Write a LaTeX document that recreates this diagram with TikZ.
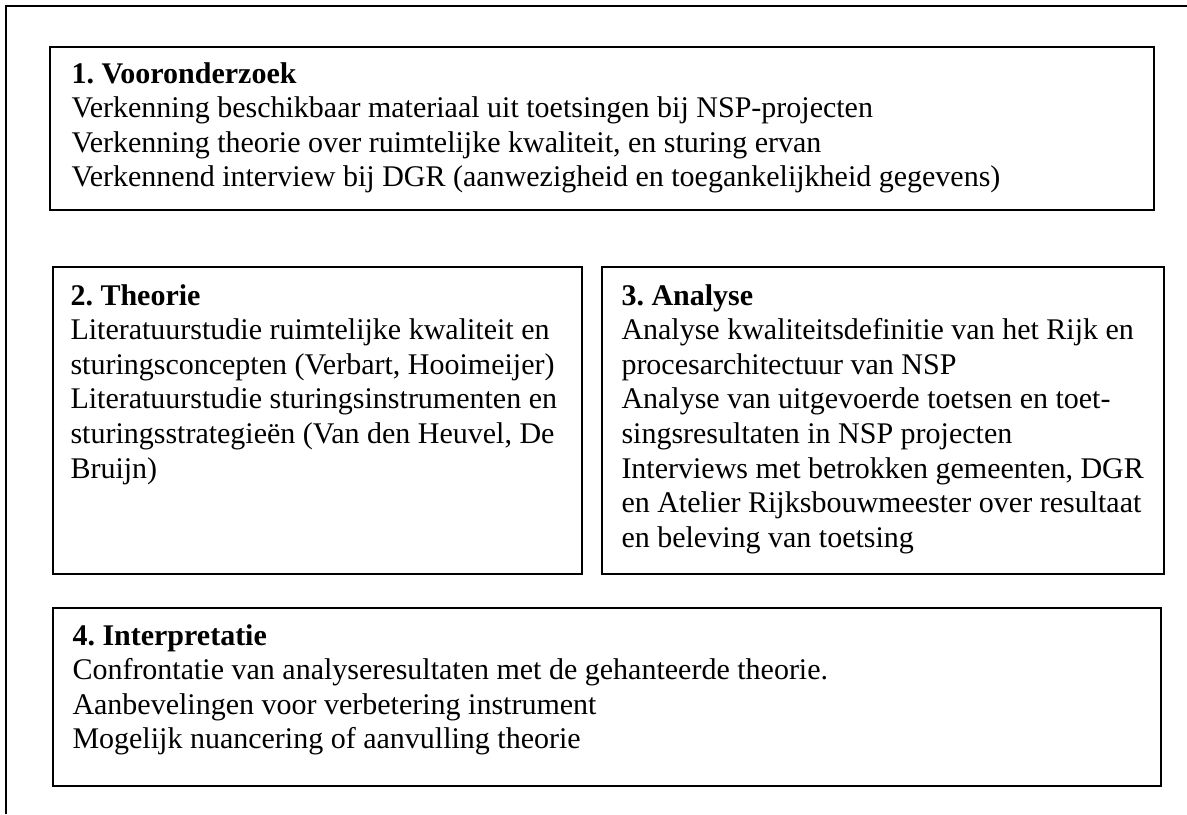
\documentclass[tikz,border=0pt]{standalone}
\usepackage{fontspec}
\setmainfont{Liberation Serif}
\usetikzlibrary{fit}
\frenchspacing
\begin{document}
\begin{tikzpicture}[x=0.4pt,y=-0.4pt,
  frame/.style={line width=0.8pt},
  panel/.style={draw, line width=0.75pt, inner sep=0pt},
  body/.style={anchor=base west, inner sep=0pt, align=left,
    font=\fontsize{12pt}{13.84pt}\selectfont}]
\useasboundingbox (0,0) rectangle (1187,814);
% outer frame, open towards the right and bottom edges
\coordinate (fbl) at (6,814);
\coordinate (ftl) at (6,6);
\coordinate (ftr) at (1187,6);
\draw[frame] (fbl) -- (ftl) -- (ftr);

% panels
\node[panel, fit={(50,47) (1154,210)}] (p1) {};
\node[panel, fit={(53,267) (582,574)}] (p2) {};
\node[panel, fit={(602,267) (1164,574)}] (p3) {};
\node[panel, fit={(53,608) (1161,786)}] (p4) {};

% panel texts
\node[body] (t1) at (71,83) {\begin{tabular}[t]{@{}l@{}}
\textbf{1. Vooronderzoek}\\
Verkenning beschikbaar materiaal uit toetsingen bij NSP-projecten\\
Verkenning theorie over ruimtelijke kwaliteit, en sturing ervan\\
Verkennend interview bij DGR (aanwezigheid en toegankelijkheid gegevens)
\end{tabular}};

\node[body] (t2) at (70,305) {\begin{tabular}[t]{@{}l@{}}
\textbf{2. Theorie}\\
Literatuurstudie ruimtelijke kwaliteit en\\
sturingsconcepten (Verbart, Hooimeijer)\\
Literatuurstudie sturingsinstrumenten en\\
sturingsstrategieën (Van den Heuvel, De\\
Bruijn)
\end{tabular}};

\node[body] (t3) at (621,305) {\begin{tabular}[t]{@{}l@{}}
\textbf{3. Analyse}\\
Analyse kwaliteitsdefinitie van het Rijk en\\
procesarchitectuur van NSP\\
Analyse van uitgevoerde toetsen en toet-\\
singsresultaten in NSP projecten\\
Interviews met betrokken gemeenten, DGR\\
en Atelier Rijksbouwmeester over resultaat\\
en beleving van toetsing
\end{tabular}};

\node[body] (t4) at (72,645) {\begin{tabular}[t]{@{}l@{}}
\textbf{4. Interpretatie}\\
Confrontatie van analyseresultaten met de gehanteerde theorie.\\
Aanbevelingen voor verbetering instrument\\
Mogelijk nuancering of aanvulling theorie
\end{tabular}};
\end{tikzpicture}
\end{document}
